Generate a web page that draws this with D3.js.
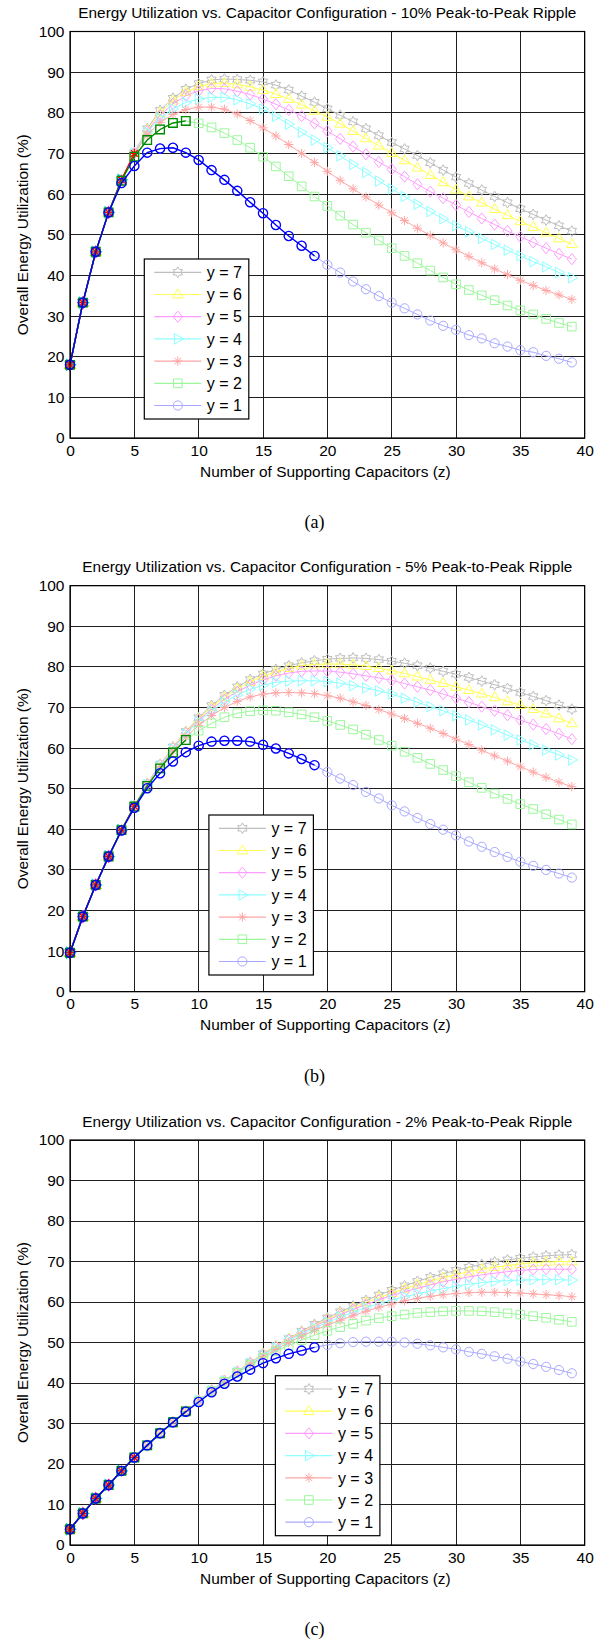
<!DOCTYPE html>
<html><head><meta charset="utf-8">
<script src="https://cdn.jsdelivr.net/npm/d3@7"></script>
<style>body{margin:0;background:#fff}svg{display:block}</style>
</head><body>
<svg id="fig" width="607" height="1643"></svg>
<script>
// ---------- data ----------
const zValues = [0,1,2,3,4,5,6,7,8,9,10,11,12,13,14,15,16,17,18,19,20,21,22,23,24,25,26,27,28,29,30,31,32,33,34,35,36,37,38,39];
const xTicks = [0,5,10,15,20,25,30,35,40];
const yTicks = [0,10,20,30,40,50,60,70,80,90,100];
const seriesLabels = ["y = 1","y = 2","y = 3","y = 4","y = 5","y = 6","y = 7"];
const validZMax = [19, 9, 5, 4, 3, 2, 1]; // last z of the dark (valid) part, per y
const panelTitles = [
  "Energy Utilization vs. Capacitor Configuration - 10% Peak-to-Peak Ripple",
  "Energy Utilization vs. Capacitor Configuration - 5% Peak-to-Peak Ripple",
  "Energy Utilization vs. Capacitor Configuration - 2% Peak-to-Peak Ripple"];
const panelCaptions = ["(a)","(b)","(c)"];
const xLabel = "Number of Supporting Capacitors (z)";
const yLabel = "Overall Energy Utilization (%)";

// (a) 10% ripple
const a_y1 = [18.0,33.3,45.8,55.5,62.7,66.9,70.2,71.2,71.4,70.2,68.4,65.9,63.5,60.8,58.0,55.3,52.4,49.7,47.3,44.8,42.6,40.7,38.5,36.6,34.9,33.3,31.9,30.4,28.9,27.6,26.6,25.3,24.5,23.3,22.5,21.6,21.1,20.2,19.5,18.6];
const a_y2 = [18.0,33.3,45.8,55.5,63.3,69.2,73.3,75.9,77.5,78.0,77.4,76.4,75.0,73.3,71.4,69.2,66.8,64.4,61.9,59.4,57.1,54.7,52.5,50.5,48.6,46.7,44.8,43.0,41.2,39.5,37.8,36.4,35.1,33.9,32.6,31.4,30.4,29.3,28.3,27.4];
const a_y3 = [18.0,33.3,45.8,55.5,63.5,70.0,74.6,77.6,79.6,80.8,81.4,81.4,80.9,79.7,78.1,76.3,74.3,72.2,70.0,67.8,65.6,63.4,61.3,59.3,57.3,55.4,53.5,51.6,49.8,48.0,46.3,44.7,43.1,41.6,40.2,38.8,37.5,36.3,35.2,34.1];
const a_y4 = [18.0,33.3,45.8,55.5,63.5,70.1,75.2,78.7,81.0,82.5,83.4,83.8,83.8,83.2,82.2,80.9,79.1,77.2,75.2,73.3,71.4,69.4,67.3,65.3,63.2,61.3,59.4,57.5,55.7,53.9,52.2,50.7,49.1,47.6,46.2,44.8,43.4,42.1,40.7,39.4];
const a_y5 = [18.0,33.3,45.8,55.5,63.5,70.1,75.5,79.4,82.2,84.2,85.4,86.0,85.9,85.3,84.5,83.4,82.1,80.7,79.2,77.4,75.5,73.6,71.7,69.8,67.9,66.1,64.3,62.4,60.6,59.0,57.3,55.6,54.0,52.5,50.9,49.5,48.1,46.7,45.3,44.0];
const a_y6 = [18.0,33.3,45.8,55.5,63.5,70.1,75.8,80.0,83.0,85.1,86.5,87.2,87.3,87.0,86.4,85.6,84.6,83.4,82.0,80.5,79.0,77.3,75.5,73.7,71.9,70.1,68.3,66.5,64.7,62.9,61.1,59.4,57.9,56.3,54.8,53.3,51.9,50.5,49.1,47.7];
const a_y7 = [18.0,33.3,45.8,55.5,63.5,70.2,76.1,80.6,83.6,85.8,87.2,88.1,88.3,88.2,88.0,87.6,86.8,85.6,84.1,82.6,81.0,79.4,77.8,76.1,74.4,72.7,71.1,69.5,67.7,65.9,64.2,62.6,61.0,59.4,57.9,56.4,55.0,53.6,52.2,50.9];

// (b) 5% ripple
const b_y1 = [9.6,18.5,26.3,33.3,39.7,45.3,50.1,53.8,56.7,59.0,60.6,61.6,61.8,61.8,61.6,60.8,59.9,58.7,57.3,55.8,54.1,52.5,50.9,49.2,47.6,45.9,44.4,42.8,41.3,39.9,38.5,37.0,35.7,34.4,33.2,32.0,31.0,30.0,29.1,28.1];
const b_y2 = [9.6,18.5,26.3,33.3,39.8,45.6,50.7,55.0,58.9,62.0,64.3,66.1,67.6,68.6,69.1,69.3,69.2,68.8,68.3,67.6,66.7,65.7,64.6,63.3,62.0,60.6,59.1,57.6,56.1,54.6,53.1,51.6,50.2,48.8,47.5,46.2,45.0,43.7,42.4,41.2];
const b_y3 = [9.6,18.5,26.3,33.3,39.8,45.7,50.9,55.4,59.3,62.7,65.6,68.0,70.0,71.5,72.6,73.3,73.6,73.7,73.6,73.4,72.9,72.3,71.4,70.5,69.5,68.4,67.3,66.1,64.9,63.6,62.2,60.9,59.5,58.1,56.8,55.4,54.1,52.8,51.6,50.5];
const b_y4 = [9.6,18.5,26.3,33.3,39.8,45.8,51.0,55.7,59.8,63.4,66.5,69.1,71.3,73.1,74.5,75.5,76.2,76.5,76.6,76.6,76.4,76.0,75.4,74.8,74.1,73.3,72.3,71.3,70.2,69.2,68.0,66.9,65.7,64.5,63.2,62.0,60.8,59.5,58.3,57.1];
const b_y5 = [9.6,18.5,26.3,33.3,39.8,45.8,51.1,55.9,60.0,63.7,66.9,69.6,72.0,73.9,75.5,76.8,77.8,78.5,78.9,79.0,79.0,78.7,78.3,77.8,77.3,76.7,75.9,75.1,74.3,73.3,72.3,71.3,70.2,69.2,68.1,66.9,65.8,64.7,63.5,62.2];
const b_y6 = [9.6,18.5,26.3,33.3,39.8,45.8,51.2,56.0,60.2,63.9,67.2,70.1,72.5,74.6,76.3,77.7,78.8,79.7,80.3,80.6,80.7,80.7,80.5,80.2,79.7,79.1,78.4,77.6,76.8,76.0,75.1,74.3,73.4,72.5,71.5,70.6,69.6,68.5,67.3,66.1];
const b_y7 = [9.6,18.5,26.3,33.3,39.8,45.8,51.2,56.0,60.3,64.1,67.5,70.5,73.0,75.1,76.9,78.3,79.4,80.3,81.0,81.5,81.9,82.1,82.2,82.1,81.8,81.4,80.9,80.3,79.7,78.9,78.2,77.4,76.5,75.6,74.7,73.7,72.7,71.7,70.6,69.6];

// (c) 2% ripple
const c_y1 = [3.9,7.8,11.5,14.8,18.3,21.6,24.6,27.6,30.3,32.9,35.3,37.7,39.8,41.6,43.3,44.9,46.1,47.2,48.0,48.8,49.4,49.8,50.1,50.2,50.2,50.2,50.0,49.7,49.3,48.8,48.3,47.7,47.2,46.6,46.0,45.3,44.7,44.0,43.2,42.4];
const c_y2 = [3.9,7.8,11.5,14.8,18.3,21.6,24.6,27.6,30.3,33.0,35.5,38.0,40.3,42.5,44.4,46.2,47.8,49.3,50.6,51.8,52.9,53.8,54.6,55.4,56.0,56.5,56.9,57.3,57.5,57.7,57.8,57.8,57.7,57.5,57.2,56.9,56.5,56.1,55.6,55.1];
const c_y3 = [3.9,7.8,11.5,14.8,18.3,21.6,24.6,27.6,30.3,33.0,35.6,38.0,40.3,42.5,44.6,46.5,48.3,50.0,51.6,53.0,54.3,55.5,56.6,57.7,58.7,59.5,60.3,60.9,61.4,61.8,62.1,62.3,62.4,62.4,62.3,62.2,62.0,61.8,61.6,61.3];
const c_y4 = [3.9,7.8,11.5,14.8,18.3,21.6,24.6,27.6,30.3,33.0,35.7,38.1,40.5,42.7,44.9,46.9,48.7,50.5,52.1,53.6,55.0,56.3,57.5,58.6,59.6,60.5,61.3,62.0,62.7,63.3,63.9,64.4,64.8,65.1,65.3,65.4,65.5,65.5,65.5,65.4];
const c_y5 = [3.9,7.8,11.5,14.8,18.3,21.6,24.6,27.6,30.3,33.0,35.7,38.2,40.6,42.8,45.0,47.0,48.9,50.7,52.4,54.0,55.5,56.9,58.2,59.4,60.5,61.6,62.5,63.4,64.2,65.0,65.6,66.2,66.7,67.1,67.5,67.8,68.0,68.1,68.1,68.1];
const c_y6 = [3.9,7.8,11.5,14.8,18.3,21.6,24.6,27.6,30.3,33.0,35.7,38.2,40.6,42.9,45.1,47.2,49.1,50.9,52.6,54.2,55.8,57.2,58.6,59.9,61.1,62.2,63.3,64.3,65.2,66.0,66.8,67.5,68.1,68.6,69.0,69.4,69.7,69.9,70.0,70.0];
const c_y7 = [3.9,7.8,11.5,14.8,18.3,21.6,24.6,27.6,30.3,33.0,35.7,38.2,40.6,42.9,45.1,47.2,49.2,51.0,52.8,54.5,56.1,57.6,59.0,60.4,61.7,62.9,64.0,65.1,66.1,67.0,67.8,68.6,69.3,69.9,70.4,70.8,71.1,71.4,71.6,71.7];

// ---------- styles ----------
const lightColors = ["#a9a9ff","#9cf79c","#ffa6a6","#8cffff","#ff9cff","#ffff55","#bdbdbd"];
const darkColors  = ["#0000ff","#008a00","#ff0000","#00c8c8","#ff00ff","#e6e600","#606060"];
const markerTypes = ["circle","square","asterisk","triRight","diamond","triUp","hexagram"];

function markerPath(t){
  switch(t){
    case "circle": { const r=4.6; return `M${r},0A${r},${r} 0 1,1 ${-r},0A${r},${r} 0 1,1 ${r},0Z`; }
    case "square": { const s=4.3; return `M${-s},${-s}H${s}V${s}H${-s}Z`; }
    case "asterisk": return "M0,-4.6V4.6M-4.6,0H4.6M-3.3,-3.3L3.3,3.3M-3.3,3.3L3.3,-3.3";
    case "triRight": return "M5.6,0L-3.4,-5.3L-3.4,5.3Z";
    case "diamond": return "M0,-5.6L4.6,0L0,5.6L-4.6,0Z";
    case "triUp": return "M0,-5.6L5.3,3.4L-5.3,3.4Z";
    case "hexagram": {
      const pts=[]; for(let k=0;k<12;k++){const R=(k%2===0)?5.4:3.1; const a=-Math.PI/2+k*Math.PI/6; pts.push([R*Math.cos(a),R*Math.sin(a)]);}
      return "M"+pts.map(p=>p[0].toFixed(2)+","+p[1].toFixed(2)).join("L")+"Z"; }
  }
}

const panels = [
  {top:31.5, bottom:438.0, legendX:144.3, legendY:259.0, series:[a_y1,a_y2,a_y3,a_y4,a_y5,a_y6,a_y7]},
  {top:585.7, bottom:991.7, legendX:208.9, legendY:815.0, series:[b_y1,b_y2,b_y3,b_y4,b_y5,b_y6,b_y7]},
  {top:1140.0, bottom:1545.0, legendX:275.4, legendY:1375.7, series:[c_y1,c_y2,c_y3,c_y4,c_y5,c_y6,c_y7]}
];
const plotLeft = 70, plotRight = 584.7;
const FONT = "'Liberation Sans', Arial, Helvetica, sans-serif";

const svg = d3.select("#fig");
svg.append("rect").attr("width",607).attr("height",1643).attr("fill","#fff");

panels.forEach((p, pi) => {
  const g = svg.append("g");
  const x = d3.scaleLinear().domain([0,40]).range([plotLeft, plotRight]);
  const y = d3.scaleLinear().domain([0,100]).range([p.bottom, p.top]);
  const cx = (plotLeft+plotRight)/2;

  // grid
  const grid = g.append("g").attr("stroke","#1e1e1e").attr("stroke-width",1).attr("shape-rendering","crispEdges");
  xTicks.forEach(t => grid.append("line").attr("x1",x(t)).attr("x2",x(t)).attr("y1",p.top).attr("y2",p.bottom));
  yTicks.forEach(t => grid.append("line").attr("x1",plotLeft).attr("x2",plotRight).attr("y1",y(t)).attr("y2",y(t)));

  // axes (tick labels via d3 axes)
  const xAxis = d3.axisBottom(x).tickValues(xTicks).tickSize(0).tickPadding(6.5).tickFormat(d3.format("d"));
  const yAxis = d3.axisLeft(y).tickValues(yTicks).tickSize(0).tickPadding(5.5).tickFormat(d3.format("d"));
  const gx = g.append("g").attr("transform",`translate(0,${p.bottom})`).call(xAxis);
  const gy = g.append("g").attr("transform",`translate(${plotLeft},0)`).call(yAxis);
  [gx,gy].forEach(a => { a.select(".domain").remove(); a.selectAll("text").attr("font-family",FONT).attr("font-size",15.5).attr("fill","#000"); });

  // data lines
  const line = d3.line().x((d,i)=>x(zValues[i])).y(d=>y(d));
  const drawSeries = (vals, color, mtype, sw, msw) => {
    const sg = g.append("g");
    sg.append("path").attr("d", line(vals)).attr("fill","none").attr("stroke",color).attr("stroke-width",sw);
    sg.selectAll("path.m").data(vals).enter().append("path").attr("class","m")
      .attr("d", markerPath(mtype))
      .attr("transform",(d,i)=>`translate(${x(zValues[i])},${y(d)})`)
      .attr("fill","none").attr("stroke",color).attr("stroke-width",msw);
  };
  for (let k=6;k>=0;k--) drawSeries(p.series[k], lightColors[k], markerTypes[k], 1, 1);
  for (let k=6;k>=0;k--) {
    const vals = p.series[k].slice(0, validZMax[k]+1);
    drawSeries(vals, darkColors[k], markerTypes[k], 1.4, 1.3);
  }

  // box
  g.append("rect").attr("x",plotLeft).attr("y",p.top).attr("width",plotRight-plotLeft).attr("height",p.bottom-p.top)
    .attr("fill","none").attr("stroke","#000").attr("stroke-width",1.2);

  // legend
  const lw = 104.5, lh = 160;
  const lg = g.append("g").attr("transform",`translate(${p.legendX},${p.legendY})`);
  lg.append("rect").attr("width",lw).attr("height",lh).attr("fill","#fff").attr("stroke","#000").attr("stroke-width",1.2);
  for (let j=0;j<7;j++){
    const k = 6-j;
    const ey = 13.3 + j*22.2;
    lg.append("line").attr("x1",10).attr("x2",57).attr("y1",ey).attr("y2",ey).attr("stroke",lightColors[k]).attr("stroke-width",1.2);
    lg.append("path").attr("d",markerPath(markerTypes[k])).attr("transform",`translate(33.5,${ey})`)
      .attr("fill","none").attr("stroke",lightColors[k]).attr("stroke-width",1);
    lg.append("text").attr("x",62.5).attr("y",ey).attr("dy","0.36em").attr("font-family",FONT).attr("font-size",16)
      .attr("fill","#000").text(seriesLabels[k]);
  }

  // title & labels
  g.append("text").attr("x",cx).attr("y",p.top-18.8).attr("dy","0.36em").attr("text-anchor","middle")
    .attr("font-family",FONT).attr("font-size",15.3).attr("textLength",pi===0?498:490).attr("lengthAdjust","spacingAndGlyphs")
    .attr("fill","#000").text(panelTitles[pi]);
  g.append("text").attr("x",cx-2).attr("y",p.bottom+33).attr("dy","0.36em").attr("text-anchor","middle")
    .attr("font-family",FONT).attr("font-size",15.4).attr("fill","#000").text(xLabel);
  g.append("text").attr("transform",`translate(22,${(p.top+p.bottom)/2}) rotate(-90)`).attr("dy","0.36em").attr("text-anchor","middle")
    .attr("font-family",FONT).attr("font-size",15.4).attr("fill","#000").text(yLabel);
  g.append("text").attr("x",314.5).attr("y",p.bottom+83.5).attr("dy","0.36em").attr("text-anchor","middle")
    .attr("font-family","'Liberation Serif', 'Times New Roman', serif").attr("font-size",18).attr("fill","#000").text(panelCaptions[pi]);
});
</script>
</body></html>
